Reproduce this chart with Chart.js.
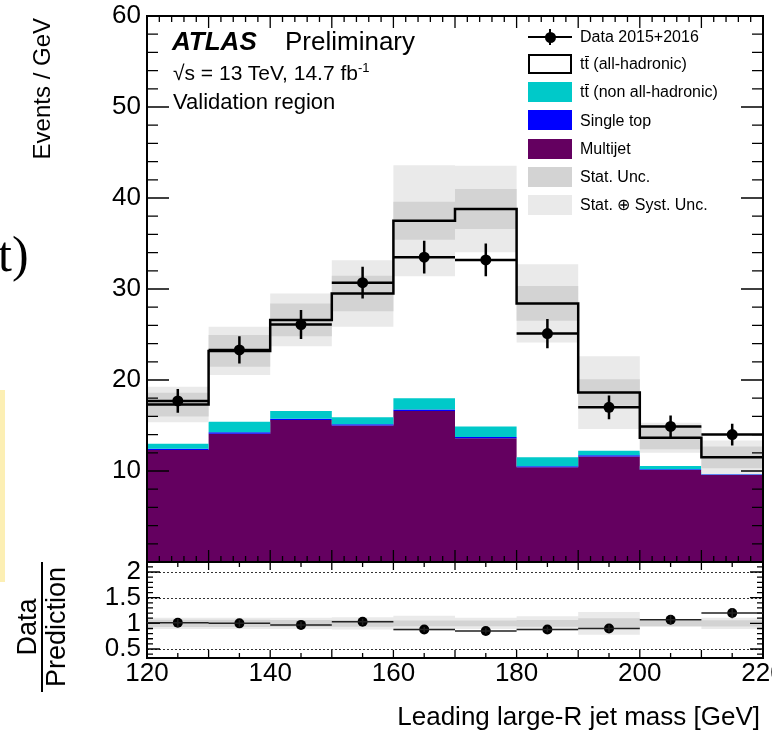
<!DOCTYPE html>
<html lang="en">
<head>
<meta charset="UTF-8">
<title>Leading large-R jet mass</title>
<script src="https://cdn.jsdelivr.net/npm/chart.js"></script>
<style>
  body { margin: 0; background: #fff; }
  #wrap { position: relative; width: 772px; height: 734px; overflow: hidden; font-family: 'Liberation Sans', Arial, sans-serif; color: #000; }
  .box { position: absolute; left: 0; width: 772px; }
  .txt { position: absolute; white-space: nowrap; line-height: 1; }
  .leg { position: absolute; left: 580px; font-size: 16px; line-height: 1; white-space: nowrap; }
  .sw { position: absolute; left: 528px; width: 44px; height: 20px; box-sizing: border-box; }
  .tb { position: relative; }
  .tb::after { content: ''; position: absolute; left: 1px; right: 0; top: 1px; border-top: 1.3px solid #000; }
</style>
</head>
<body>
<div id="wrap">
  <!-- bits of the slide around the plot -->
  <div class="txt" style="left:-2px; top:229px; font-family:'Liberation Serif','DejaVu Serif',serif; font-size:50px;">t)</div>
  <div style="position:absolute; left:0; top:390px; width:5px; height:192px; background:#fcefb4;"></div>

  <div class="box" style="top:0; height:572px;"><canvas id="mainChart"></canvas></div>
  <div class="box" style="top:552px; height:182px;"><canvas id="ratioChart"></canvas></div>

  <!-- axis titles -->
  <div class="txt" style="left:30px; top:318px; width:300px; text-align:right; font-size:24px; transform:rotate(-90deg); transform-origin:0 0;">Events / GeV</div>
  <div class="txt" style="left:14px; top:692px; width:130px; text-align:center; font-size:27px; transform:rotate(-90deg); transform-origin:0 0;">
    <div style="border-bottom:2px solid #000; height:27px;">Data</div>
    <div>Prediction</div>
  </div>
  <div class="txt" style="right:12px; top:703px; font-size:26px;">Leading large-R jet mass [GeV]</div>

  <!-- ATLAS label -->
  <div class="txt" style="left:172px; top:28px; font-size:26px; font-weight:bold; font-style:italic;">ATLAS</div>
  <div class="txt" style="left:285px; top:28px; font-size:26px;">Preliminary</div>
  <div class="txt" style="left:173px; top:62px; font-size:21px;">√s = 13 TeV, 14.7 fb<sup style="font-size:13px; vertical-align:8px; line-height:0;">-1</sup></div>
  <div class="txt" style="left:173px; top:91px; font-size:22px;">Validation region</div>

  <!-- legend -->
  <div style="position:absolute; left:528px; top:36px; width:44px; height:2px; background:#000;"></div>
  <div style="position:absolute; left:549px; top:29px; width:2px; height:16px; background:#000;"></div>
  <div style="position:absolute; left:544.5px; top:31.5px; width:11px; height:11px; border-radius:50%; background:#000;"></div>
  <div class="leg" style="top:29px;">Data 2015+2016</div>

  <div class="sw" style="top:54px; border:2.5px solid #000; background:#fff;"></div>
  <div class="leg" style="top:56px;">t<span class="tb">t</span> (all-hadronic)</div>

  <div class="sw" style="top:82px; background:rgb(0,201,201);"></div>
  <div class="leg" style="top:84px;">t<span class="tb">t</span> (non all-hadronic)</div>

  <div class="sw" style="top:110px; background:rgb(0,0,255);"></div>
  <div class="leg" style="top:113px;">Single top</div>

  <div class="sw" style="top:139px; background:rgb(100,0,96);"></div>
  <div class="leg" style="top:141px;">Multijet</div>

  <div class="sw" style="top:167px; background:rgb(211,211,211);"></div>
  <div class="leg" style="top:169px;">Stat. Unc.</div>

  <div class="sw" style="top:195px; background:rgb(234,234,234);"></div>
  <div class="leg" style="top:197px;">Stat. ⊕ Syst. Unc.</div>
</div>

<script>
// bin edges of the leading large-R jet mass [GeV]
const binEdges = [120, 130, 140, 150, 160, 170, 180, 190, 200, 210, 220];

// stacked prediction, events / GeV
const multijet    = [12.3, 14.1, 15.6, 15.0, 16.6, 13.6, 10.4, 11.6, 10.1, 9.55];
const singleTop   = [0.15, 0.15, 0.15, 0.15, 0.15, 0.15, 0.12, 0.12, 0.10, 0.10];
const ttbarOther  = [0.55, 1.15, 0.85, 0.75, 1.25, 1.15, 1.00, 0.50, 0.35, 0.25];
const ttbarAllHad = [4.3, 7.8, 10.0, 13.6, 19.5, 23.9, 16.9, 6.4, 3.1, 1.6];

// uncertainty bands (half widths) on the total prediction
const statUnc = [1.30, 1.75, 1.80, 1.95, 2.10, 2.20, 1.90, 1.45, 1.25, 1.20];
const totUnc  = [1.95, 2.65, 2.90, 3.65, 6.10, 4.75, 4.30, 4.00, 1.65, 1.85];

// data
const dataVals = [17.7, 23.3, 26.1, 30.7, 33.5, 33.2, 25.1, 17.0, 14.9, 14.0];
const dataErr  = [1.3, 1.5, 1.6, 1.75, 1.8, 1.8, 1.6, 1.3, 1.2, 1.2];

// ratio panel
const ratioVals = [1.01, 1.00, 0.97, 1.03, 0.88, 0.85, 0.88, 0.90, 1.07, 1.20];
const ratioErr  = [0.075, 0.065, 0.06, 0.06, 0.05, 0.05, 0.055, 0.07, 0.09, 0.10];
const ratioStat = [0.07, 0.07, 0.065, 0.065, 0.055, 0.055, 0.065, 0.10, 0.05, 0.06];
const ratioTot  = [0.11, 0.11, 0.11, 0.12, 0.15, 0.11, 0.14, 0.22, 0.07, 0.11];

// tick labels
const xTicks = [120, 140, 160, 180, 200, 220];
const yTicksMain = [10, 20, 30, 40, 50, 60];
const yTicksRatio = [0.5, 1, 1.5, 2];

const PURPLE = 'rgb(100,0,96)';
const CYAN = 'rgb(0,201,201)';
const BLUE = 'rgb(0,0,255)';
const STAT = 'rgb(211,211,211)';
const SYST = 'rgb(234,234,234)';
const FONT = 'Liberation Sans';

// points for a histogram drawn as a step line
function steps(vals) {
  const pts = vals.map((v, i) => ({ x: binEdges[i], y: v }));
  pts.push({ x: binEdges[vals.length], y: vals[vals.length - 1] });
  return pts;
}
function addUp(a, b, sign = 1) {
  return a.map((v, i) => v + sign * b[i]);
}
const centers = binEdges.slice(0, -1).map((e, i) => (e + binEdges[i + 1]) / 2);

const lvlMultijet = multijet;
const lvlSingle = addUp(lvlMultijet, singleTop);
const lvlOther = addUp(lvlSingle, ttbarOther);
const total = addUp(lvlOther, ttbarAllHad);

function onStep(v, step) {
  const r = v / step;
  return Math.abs(r - Math.round(r)) < 1e-6;
}

// ROOT-like frame with ticks on all four sides
const rootFrame = {
  id: 'rootFrame',
  afterDatasetsDraw(chart, args, o) {
    const { ctx, chartArea: a } = chart;
    const sx = chart.scales.x, sy = chart.scales.y;
    ctx.save();
    ctx.strokeStyle = '#000';
    ctx.lineWidth = 1.3;
    ctx.beginPath();
    const xf = o.xSteps[o.xSteps.length - 1][0];
    for (let i = Math.ceil(sx.min / xf - 1e-6); i <= Math.floor(sx.max / xf + 1e-6); i++) {
      const v = i * xf;
      if (v <= sx.min || v >= sx.max) continue;
      const len = o.xSteps.find(s => onStep(v, s[0]))[1];
      const px = sx.getPixelForValue(v);
      ctx.moveTo(px, a.bottom); ctx.lineTo(px, a.bottom - len);
      ctx.moveTo(px, a.top); ctx.lineTo(px, a.top + len);
    }
    const yf = o.ySteps[o.ySteps.length - 1][0];
    for (let i = Math.ceil(sy.min / yf - 1e-6); i <= Math.floor(sy.max / yf + 1e-6); i++) {
      const v = i * yf;
      if (v <= sy.min || v >= sy.max) continue;
      const len = o.ySteps.find(s => onStep(v, s[0]))[1];
      const py = sy.getPixelForValue(v);
      ctx.moveTo(a.left, py); ctx.lineTo(a.left + len, py);
      ctx.moveTo(a.right, py); ctx.lineTo(a.right - len, py);
    }
    ctx.stroke();
    ctx.lineWidth = 2;
    ctx.strokeRect(a.left, a.top, a.right - a.left, a.bottom - a.top);
    ctx.restore();
  }
};

// error bars for the data points
const errBars = {
  id: 'errBars',
  afterDatasetsDraw(chart, args, o) {
    const { ctx } = chart;
    const sx = chart.scales.x, sy = chart.scales.y;
    ctx.save();
    ctx.strokeStyle = o.color;
    ctx.lineWidth = o.width;
    ctx.beginPath();
    o.vals.forEach((v, i) => {
      const px = sx.getPixelForValue(centers[i]);
      ctx.moveTo(sx.getPixelForValue(binEdges[i]), sy.getPixelForValue(v));
      ctx.lineTo(sx.getPixelForValue(binEdges[i + 1]), sy.getPixelForValue(v));
      ctx.moveTo(px, sy.getPixelForValue(v - o.errs[i]));
      ctx.lineTo(px, sy.getPixelForValue(v + o.errs[i]));
    });
    ctx.stroke();
    ctx.restore();
  }
};

// dotted reference lines in the ratio panel
const refLines = {
  id: 'refLines',
  beforeDatasetsDraw(chart, args, o) {
    if (!o.values) return;
    const { ctx, chartArea: a } = chart;
    const sy = chart.scales.y;
    ctx.save();
    ctx.strokeStyle = '#333';
    ctx.lineWidth = 1;
    ctx.setLineDash([2, 2]);
    ctx.beginPath();
    o.values.forEach(v => {
      const py = Math.round(sy.getPixelForValue(v)) + 0.5;
      ctx.moveTo(a.left, py); ctx.lineTo(a.right, py);
    });
    ctx.stroke();
    ctx.restore();
  }
};

function area(vals, color, fill) {
  return { data: steps(vals), stepped: 'before', fill: fill, backgroundColor: color,
           borderWidth: 0, pointRadius: 0 };
}
function withOrder(list) {
  list.forEach((d, i) => { d.order = 100 - i; });
  return list;
}
function tickFont() {
  return { family: FONT, size: 26 };
}
function leftAxis(min, max, ticks, fmt) {
  return {
    min: min, max: max,
    afterBuildTicks: s => { s.ticks = ticks.map(v => ({ value: v })); },
    afterFit: s => { s.width = 147; s.paddingTop = 0; s.paddingBottom = 0; },
    ticks: { font: tickFont(), color: '#000', padding: 6, autoSkip: false, callback: fmt },
    grid: { display: false, drawTicks: false },
    border: { display: false }
  };
}

const common = {
  responsive: true,
  maintainAspectRatio: false,
  animation: false,
  events: [],
  datasets: { line: { tension: 0 } }
};

new Chart(document.getElementById('mainChart'), {
  type: 'line',
  data: {
    datasets: withOrder([
      area(lvlMultijet, PURPLE, 'origin'),
      area(lvlSingle, BLUE, '-1'),
      area(lvlOther, CYAN, '-1'),
      area(addUp(total, totUnc, -1), SYST, false),
      area(addUp(total, totUnc), SYST, '-1'),
      area(addUp(total, statUnc, -1), STAT, false),
      area(addUp(total, statUnc), STAT, '-1'),
      { data: steps(total), stepped: 'before', fill: false, borderColor: '#000',
        borderWidth: 2.5, pointRadius: 0 },
      { data: dataVals.map((v, i) => ({ x: centers[i], y: v })), showLine: false,
        pointRadius: 5.5, pointBackgroundColor: '#000', pointBorderWidth: 0 }
    ])
  },
  options: Object.assign({}, common, {
    layout: { padding: { top: 16, right: 9, bottom: 10, left: 0 } },
    scales: {
      x: { type: 'linear', min: 120, max: 220, display: false },
      y: leftAxis(0, 60, yTicksMain, v => String(v))
    },
    plugins: {
      legend: { display: false },
      tooltip: { enabled: false },
      rootFrame: { xSteps: [[10, 12], [2, 6]], ySteps: [[10, 22], [2, 11]] },
      errBars: { vals: dataVals, errs: dataErr, color: '#000', width: 2.5 }
    }
  }),
  plugins: [rootFrame, errBars]
});

new Chart(document.getElementById('ratioChart'), {
  type: 'line',
  data: {
    datasets: withOrder([
      area(ratioTot.map(u => 1 - u), SYST, false),
      area(ratioTot.map(u => 1 + u), SYST, '-1'),
      area(ratioStat.map(u => 1 - u), STAT, false),
      area(ratioStat.map(u => 1 + u), STAT, '-1'),
      { data: ratioVals.map((v, i) => ({ x: centers[i], y: v })), showLine: false,
        pointRadius: 5, pointBackgroundColor: '#000', pointBorderWidth: 0 }
    ])
  },
  options: Object.assign({}, common, {
    layout: { padding: { top: 10, right: 9, bottom: 0, left: 0 } },
    scales: {
      x: {
        type: 'linear', min: 120, max: 220,
        afterBuildTicks: s => { s.ticks = xTicks.map(v => ({ value: v })); },
        afterFit: s => { s.height = 76; s.paddingLeft = 0; s.paddingRight = 0; },
        ticks: { font: tickFont(), color: '#000', padding: 0, maxRotation: 0, autoSkip: false, callback: v => String(v) },
        grid: { display: false, drawTicks: false },
        border: { display: false }
      },
      y: leftAxis(0.325, 2.195, yTicksRatio, v => String(v))
    },
    plugins: {
      legend: { display: false },
      tooltip: { enabled: false },
      refLines: { values: [0.5, 1, 1.5, 2] },
      rootFrame: { xSteps: [[10, 8], [5, 5]], ySteps: [[0.5, 13], [0.1, 6]] },
      errBars: { vals: ratioVals, errs: ratioErr, color: '#222', width: 1.5 }
    }
  }),
  plugins: [refLines, rootFrame, errBars]
});
</script>
</body>
</html>
